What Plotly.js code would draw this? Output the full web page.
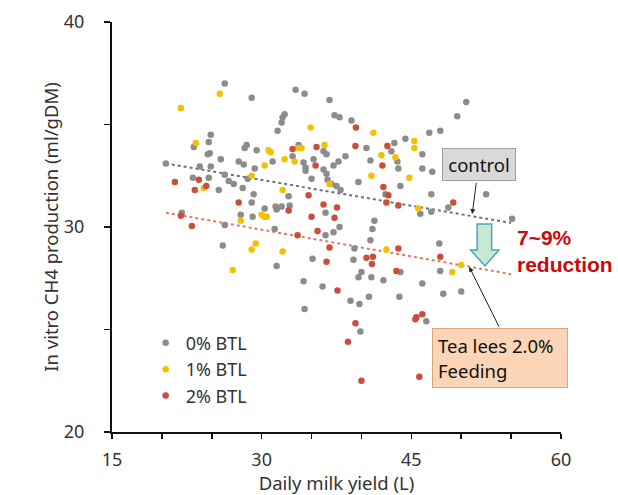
<!DOCTYPE html>
<html>
<head>
<meta charset="utf-8">
<script src="https://cdn.plot.ly/plotly-3.0.1.min.js"></script>
<style>html,body{margin:0;padding:0;background:#fff;}#chart{width:618px;height:495px;}</style>
</head>
<body>
<div id="chart"></div>
<script>
// ---- data ----
const grayX = [26.3,29.0,33.4,34.3,36.8,32.3,32.1,32.0,31.6,37.3,37.8,39.0,24.9,24.7,23.2,24.8,24.6,28.5,28.3,29.5,
  25.9,27.7,28.2,29.3,20.4,23.8,24.9,23.1,24.7,26.3,26.7,27.2,28.1,25.7,28.6,31.1,33.1,33.7,34.2,34.4,
  34.4,35.2,35.0,36.2,36.5,36.2,36.5,36.6,37.2,37.7,29.2,32.7,29.0,30.3,31.4,31.5,32.0,32.8,27.9,29.1,
  22.0,26.3,31.3,36.4,37.0,37.5,37.9,50.5,49.6,46.8,47.9,44.4,43.3,43.0,40.5,38.4,40.9,43.6,43.7,46.1,
  46.1,47.1,39.7,43.9,42.4,47.0,52.5,48.7,47.0,45.9,55.1,41.3,41.1,37.8,37.2,36.4,40.9,39.3,47.8,35.1,
  39.2,40.0,39.7,41.0,42.2,43.9,47.9,34.2,36.1,46.1,48.2,50.0,38.9,39.8,40.75,43.8,34.3,46.5,39.9,26.1,31.5];
const grayY = [37.0,36.3,36.7,36.5,36.2,35.5,35.35,35.1,34.7,35.45,35.35,35.2,34.5,34.15,33.9,33.6,33.55,34.0,33.85,33.75,
  33.3,33.2,33.05,32.85,33.1,32.95,32.95,32.4,32.4,32.55,32.25,32.1,31.9,31.8,32.35,33.2,33.45,34.0,33.15,32.9,
  32.75,33.3,32.35,33.7,33.55,32.8,32.6,32.3,33.0,33.2,31.6,31.5,31.2,30.9,31.0,30.85,31.0,31.05,30.6,30.5,
  30.7,30.1,29.9,30.7,32.1,32.0,31.8,36.1,35.4,34.6,34.7,34.3,34.1,33.7,33.85,33.45,33.25,33.2,32.85,33.55,
  32.85,32.7,32.2,32.0,31.6,31.6,31.6,30.95,30.75,30.65,30.4,30.3,29.9,30.0,29.75,29.6,29.35,28.95,29.2,28.45,
  28.4,27.8,27.55,27.55,27.4,27.8,27.85,27.35,27.1,27.25,26.75,26.85,26.4,26.25,26.6,26.6,26.0,25.4,24.9,29.1,28.1];

const yellowX = [25.8,21.9,23.4,30.7,30.9,34.9,32.3,30.3,33.3,33.7,34.0,36.3,29.0,24.2,32.1,36.8,30.0,30.3,30.5,27.9,
  41.2,45.3,45.3,42.0,43.4,41.0,44.8,45.7,27.1,29.4,29.0,32.1,42.5,50.0,49.1];
const yellowY = [36.5,35.8,34.1,33.75,33.65,34.85,33.3,33.0,33.2,33.85,33.85,34.0,32.5,31.9,31.8,32.1,30.6,30.5,30.5,30.3,
  34.6,34.2,33.85,33.5,33.4,32.5,32.4,30.9,27.9,29.2,28.9,28.8,28.9,28.15,27.8];

const redX = [21.3,23.7,23.3,24.45,27.7,33.1,35.5,35.4,34.7,32.7,36.2,37.55,35.0,37.3,21.9,23.0,39.45,39.4,42.6,42.1,
  42.2,42.7,42.5,43.7,49.2,33.6,35.6,36.8,36.5,40.5,41.15,41.05,43.7,47.9,43.5,37.6,45.5,45.4,46.1,39.4,
  38.65,40.0,45.8];
const redY = [32.2,32.3,31.8,32.0,31.2,33.8,33.9,33.0,31.55,30.8,31.1,30.95,30.5,30.45,30.55,30.05,34.85,33.95,33.95,33.0,
  31.95,31.55,31.2,31.05,31.2,29.6,29.8,29.0,28.3,28.5,28.55,28.2,28.95,28.55,27.85,26.9,25.6,25.5,25.75,25.3,
  24.4,22.5,22.7];

// regression (trend) lines
const trendX = [20.4, 55.0];
const controlTrendY = [33.1, 30.2];
const teaTrendY = [30.7, 27.7];

const seriesNames = ['0% BTL', '1% BTL', '2% BTL'];
const xTickVals = [15,20,25,30,35,40,45,50,55,60];
const xTickText = ['15','','','30','','','45','','','60'];
const yTickVals = [20,25,30,35,40];
const yTickText = ['20','','30','','40'];

// ---- styles ----
const FONT = '"Noto Sans", "Open Sans", sans-serif';
const TXT = '#333333';

const traces = [
  {x: trendX, y: controlTrendY, mode: 'lines', showlegend: false, hoverinfo: 'skip',
   line: {color: '#5f7878', width: 2, dash: 'dot'}},
  {x: trendX, y: teaTrendY, mode: 'lines', showlegend: false, hoverinfo: 'skip',
   line: {color: '#e07a66', width: 2, dash: 'dot'}},
  {x: grayX, y: grayY, mode: 'markers', name: seriesNames[0],
   marker: {color: '#8c8c8c', size: 6.5}},
  {x: yellowX, y: yellowY, mode: 'markers', name: seriesNames[1],
   marker: {color: '#f2c200', size: 6.5}},
  {x: redX, y: redY, mode: 'markers', name: seriesNames[2],
   marker: {color: '#cb4e3a', size: 6.5}}
];

const layout = {
  width: 618, height: 495,
  margin: {l: 112, r: 57, t: 22, b: 63},
  paper_bgcolor: '#ffffff', plot_bgcolor: '#ffffff',
  font: {family: FONT, color: TXT, size: 18},
  showlegend: true,
  legend: {x: 0.075, y: 0.262, xanchor: 'left', yanchor: 'top',
           bgcolor: 'rgba(0,0,0,0)', font: {family: FONT, size: 18, color: TXT}},
  xaxis: {range: [15, 60], tickmode: 'array', tickvals: xTickVals, ticktext: xTickText,
          showline: true, linecolor: '#111', linewidth: 2, ticks: 'outside', ticklen: 5,
          tickwidth: 1.5, tickcolor: '#111', showgrid: false, zeroline: false,
          ticklabelstandoff: 5, tickfont: {size: 18, color: TXT},
          title: {text: 'Daily milk yield (L)', font: {size: 18.5, color: TXT}, standoff: 9}},
  yaxis: {range: [20, 40], tickmode: 'array', tickvals: yTickVals, ticktext: yTickText,
          showline: true, linecolor: '#111', linewidth: 2, ticks: 'outside', ticklen: 6,
          tickwidth: 1.5, tickcolor: '#111', showgrid: false, zeroline: false,
          ticklabelstandoff: 16, tickfont: {size: 18, color: TXT},
          title: {text: 'In vitro CH4 production (ml/gDM)', font: {size: 18.5, color: TXT}, standoff: 0}},
  shapes: [
    {type: 'path', xref: 'x', yref: 'y',
     path: 'M 51.60 30.15 L 53.05 30.15 L 53.05 28.88 L 53.78 28.88 L 52.38 28.10 L 50.94 28.88 L 51.60 28.88 Z',
     fillcolor: '#c8e8d2', line: {color: '#4ba3c3', width: 1.5}}
  ],
  annotations: [
    {x: 51.74, y: 33.07, xref: 'x', yref: 'y', text: 'control', showarrow: false,
     width: 70, height: 29, borderpad: 1, borderwidth: 1, bordercolor: '#a0a0a0', bgcolor: '#d9d9d9',
     font: {family: FONT, size: 18.5, color: '#111'}},
    {x: 51.10, y: 30.63, xref: 'x', yref: 'y', text: ' ', showarrow: true, ax: 4.4, ay: -33.3,
     arrowhead: 2, arrowsize: 1, arrowwidth: 1, arrowcolor: '#222', font: {size: 1}},
    {x: 53.85, y: 23.60, xref: 'x', yref: 'y', text: 'Tea lees 2.0%<br>Feeding', showarrow: false,
     align: 'left', width: 124, height: 48, borderpad: 5, borderwidth: 1, bordercolor: '#dba57a', bgcolor: '#fbd5b6',
     font: {family: FONT, size: 18.5, color: '#111'}},
    {x: 50.80, y: 28.06, xref: 'x', yref: 'y', text: ' ', showarrow: true, ax: 30.7, ay: 61.6,
     arrowhead: 2, arrowsize: 1, arrowwidth: 1, arrowcolor: '#222', font: {size: 1}},
    {x: 55.4, y: 28.83, xref: 'x', yref: 'y', xanchor: 'left', yanchor: 'middle', align: 'left',
     text: '<b>7~9%<br>reduction</b>', showarrow: false,
     font: {family: '"Liberation Sans", Arial, sans-serif', size: 21, color: '#cc0a0a'}}
  ]
};

Plotly.newPlot('chart', traces, layout, {staticPlot: true, displayModeBar: false});
</script>
</body>
</html>
